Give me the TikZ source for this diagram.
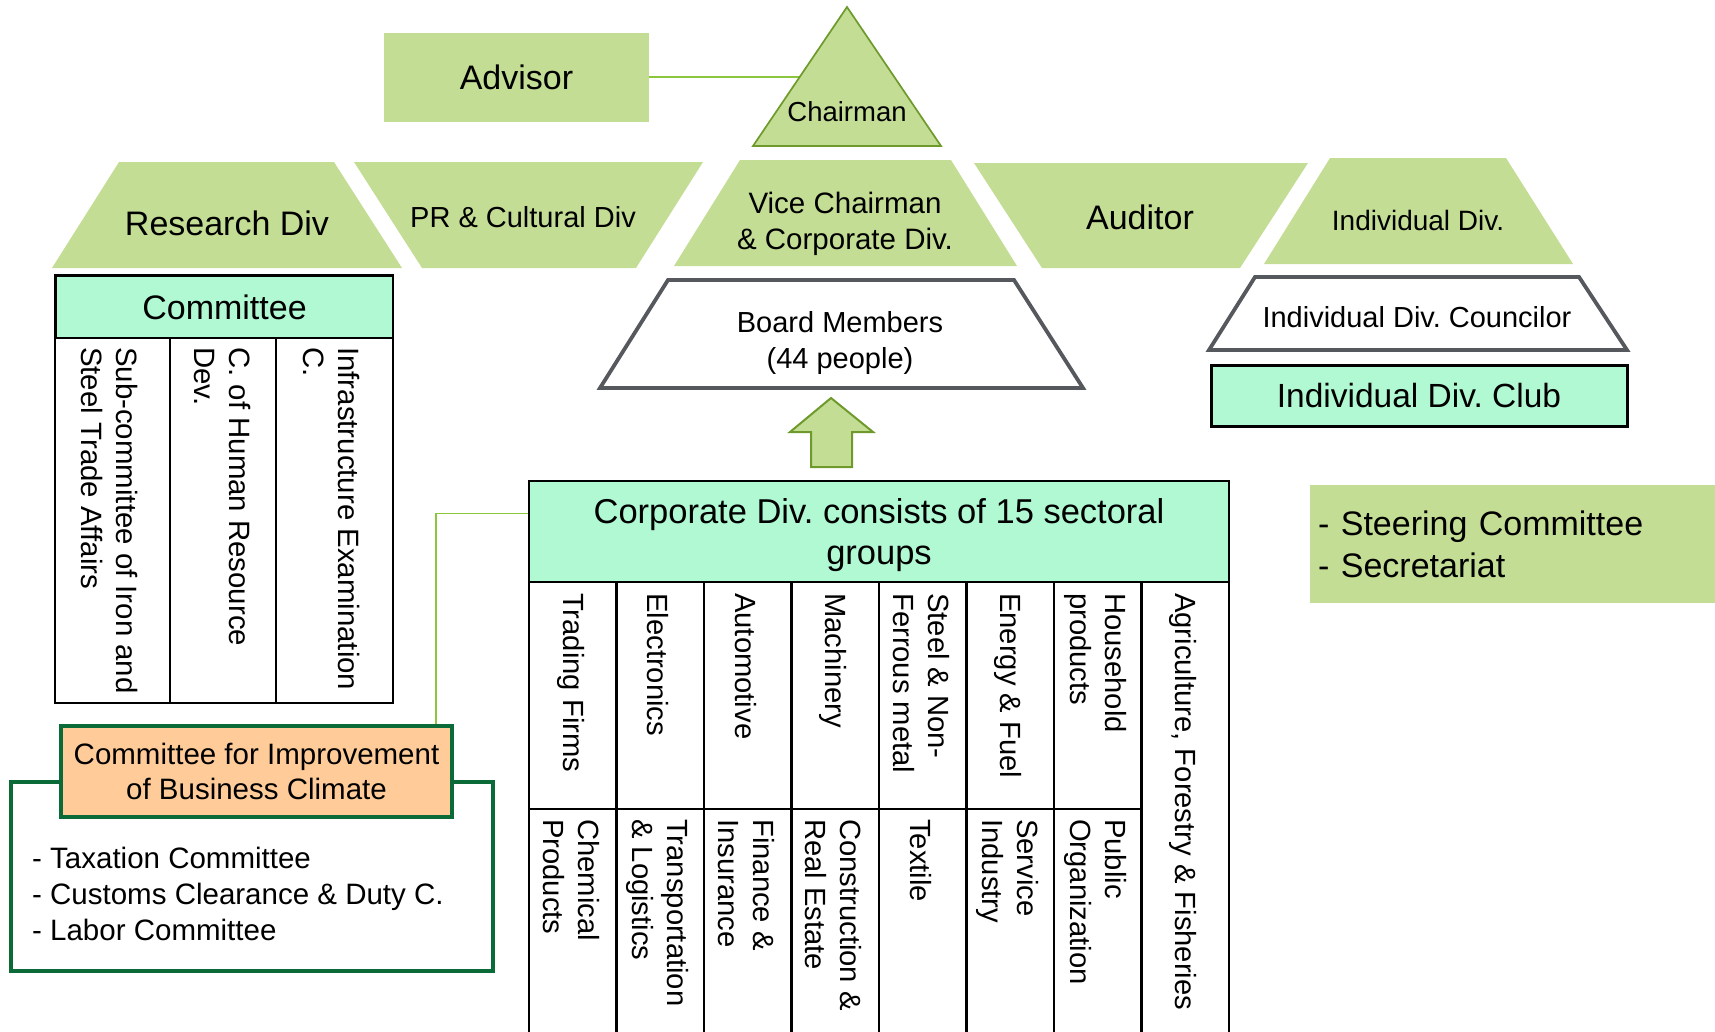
\documentclass[tikz,border=0pt]{standalone}
\usepackage{fontspec}
\setmainfont{Liberation Sans}
\usetikzlibrary{calc}
\frenchspacing

\definecolor{leaf}{HTML}{C3DD95}
\definecolor{mint}{HTML}{B0F9D3}
\definecolor{peach}{HTML}{FFCC99}
\definecolor{pine}{HTML}{0B6B38}
\definecolor{olive}{HTML}{6E9A2C}
\definecolor{lime}{HTML}{8CC63F}
\definecolor{slate}{HTML}{55585C}

\newcommand{\orgbig}{\fontsize{34}{41}\selectfont}
\newcommand{\orgmid}{\fontsize{29}{36}\selectfont}
\newcommand{\orgsector}{\fontsize{29.2}{35}\selectfont}

\tikzset{
  leafbox/.style={fill=leaf, inner sep=0pt},
  mintbox/.style={draw=black, fill=mint, line width=2.5pt, inner sep=0pt},
  tabline/.style={draw=black, line width=2.5pt, line cap=rect},
  link/.style={draw=lime, line width=1.4pt},
  vtext/.style={rotate=-90, anchor=west, align=left, inner sep=0pt},
  outlined/.style={draw=slate, fill=white, line width=3.8pt},
}

\begin{document}
\begin{tikzpicture}[x=1pt, y=-1pt]
    \useasboundingbox (0,0) rectangle (1715,1031);

    % advisor and chairman
    \node[leafbox, minimum width=265pt, minimum height=89pt, font=\orgbig] (advisor) at (516.5,77) {Advisor};
    \coordinate (chair-w) at (800,77);
    \draw[link] (advisor.east) -- (chair-w);
    \filldraw[fill=leaf, draw=olive, line width=1.7pt] (847,7) -- (941,146) -- (753,146) -- cycle;
    \node[font=\fontsize{27.5}{33}\selectfont] (chairman) at (847,112) {Chairman};

    % row of divisions
    \begin{scope}[every path/.style={fill=leaf}]
        \path (119,162) -- (334,162) -- (402,268) -- (52,268) -- cycle;
        \path (354,162) -- (703,162) -- (636,268) -- (422,268) -- cycle;
        \path (740,160) -- (951,160) -- (1017,266) -- (674,266) -- cycle;
        \path (974,163) -- (1308,163) -- (1240,268) -- (1042,268) -- cycle;
        \path (1330,158) -- (1506,158) -- (1573,264) -- (1264,264) -- cycle;
    \end{scope}
    \node[font=\orgbig] (research) at (227,223) {Research Div};
    \node[font=\orgmid] (prcult) at (523,217) {PR \& Cultural Div};
    \node[font=\fontsize{29.5}{36}\selectfont, align=center] (vicechair) at (845,224) {Vice Chairman\\\& Corporate Div.};
    \node[font=\orgbig] (auditor) at (1140,217) {Auditor};
    \node[font=\fontsize{28}{34}\selectfont] (inddiv) at (1418,220) {Individual Div.};

    % board and councilor
    \path[outlined] (668,280) -- (1014,280) -- (1083,388) -- (600,388) -- cycle;
    \node[font=\orgmid, align=center] (board) at (840,343) {Board Members\\(44 people)};
    \path[outlined] (1255,277) -- (1579,277) -- (1627,350) -- (1209,350) -- cycle;
    \node[font=\orgmid] (councilor) at (1417,317) {Individual Div. Councilor};
    \node[mintbox, line width=3pt, minimum width=416pt, minimum height=61pt, font=\fontsize{33.5}{40}\selectfont] (club) at (1419,395.5) {Individual Div. Club};

    % steering
    \node[leafbox, anchor=north west, minimum height=118pt, text width=389pt, inner xsep=8pt, align=left,
          font=\fontsize{34}{42}\selectfont] (steering) at (1310,485) {- Steering Committee\\- Secretariat};

    % research committee table
    \node[mintbox, minimum width=337pt, minimum height=62pt, font=\orgbig] (committee) at (224.5,307) {Committee};
    \draw[tabline] (committee.north west) rectangle (393,703);
    \draw[tabline] (170,338) -- (170,703);
    \draw[tabline] (276,338) -- (276,703);
    \begin{scope}[every node/.style={vtext, font=\fontsize{29.4}{35}\selectfont}]
        \node (iron) at (110,347) {Sub-committee of Iron and\\Steel Trade Affairs};
        \node (hrdev) at (222,347) {C. of Human Resource\\Dev.};
        \node (infra) at (332,347) {Infrastructure Examination\\C.};
    \end{scope}

    % up arrow
    \filldraw[fill=leaf, draw=olive, line width=2pt] (831,398) -- (873,432) -- (852,432) -- (852,467)
        -- (811,467) -- (811,432) -- (790,432) -- cycle;

    % corporate division table
    \node[mintbox, minimum width=700pt, minimum height=101pt, align=center, text depth=0pt,
          font=\fontsize{34.5}{41.5}\selectfont] (corphead) at (879,531.5)
        {Corporate Div. consists of 15 sectoral\\groups};
    \foreach \x in {529,616.5,...,1229}
        \draw[tabline] (\x,582) -- (\x,1040);
    \draw[tabline] (529,809) -- (1141.5,809);
    \begin{scope}[every node/.style={vtext, font=\orgsector}]
        \foreach \x/\up/\low [count=\i] in {
            571/{Trading Firms}/{Chemical\\Products},
            658/Electronics/{Transportation\\\& Logistics},
            746/Automotive/{Finance \&\\Insurance},
            833/Machinery/{Construction \&\\Real Estate},
            921/{Steel \& Non-\\Ferrous metal}/Textile,
            1008/{Energy \& Fuel}/{Service\\Industry},
            1096/{Household\\products}/{Public\\Organization}}
        {
            \node (sec\i a) at (\x,593) {\up};
            \node (sec\i b) at (\x,819) {\low};
        }
        \node (sec8) at (1183,593) {Agriculture, Forestry \& Fisheries};
    \end{scope}

    % business climate committee
    \node[draw=pine, fill=white, line width=3.5pt, minimum width=482pt, minimum height=189pt] (climatebox) at (252,876.5) {};
    \node[draw=pine, fill=peach, line width=4pt, minimum width=391pt, minimum height=91pt, inner sep=0pt, align=center,
          font=\fontsize{29.5}{35}\selectfont] (climate) at (256.5,771.5) {Committee for Improvement\\of Business Climate};
    \node[anchor=west, align=left, inner sep=0pt, font=\fontsize{29.5}{36}\selectfont] (climatelist) at (32,894)
        {- Taxation Committee\\- Customs Clearance \& Duty C.\\- Labor Committee};
    \draw[link] ([yshift=18pt]corphead.west) -| ([xshift=-18pt]climate.north east);

\end{tikzpicture}
\end{document}
